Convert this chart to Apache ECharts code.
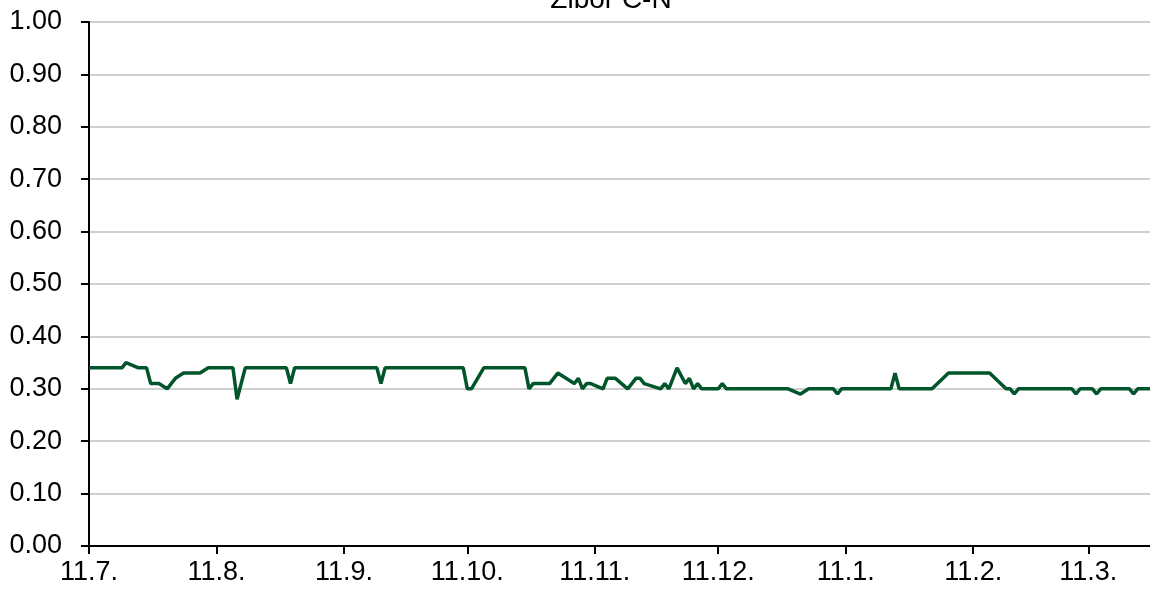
<!DOCTYPE html>
<html>
<head>
<meta charset="utf-8">
<script src="https://cdn.jsdelivr.net/npm/echarts@6/dist/echarts.min.js"></script>
<style>
html,body{margin:0;padding:0;background:#fff;}
#chart{width:1150px;height:595px;}
</style>
</head>
<body>
<div id="chart"></div>
<script>
const titleText = 'Zibor C-N';
const dates = [
  '2010-07-01','2010-07-09','2010-07-10','2010-07-13','2010-07-15','2010-07-16','2010-07-18','2010-07-20',
  '2010-07-21','2010-07-22','2010-07-24','2010-07-28','2010-07-30','2010-08-05','2010-08-06','2010-08-08',
  '2010-08-18','2010-08-19','2010-08-20','2010-09-09','2010-09-10','2010-09-11','2010-09-30','2010-10-01',
  '2010-10-02','2010-10-05','2010-10-15','2010-10-16','2010-10-17','2010-10-21','2010-10-23','2010-10-27',
  '2010-10-28','2010-10-29','2010-10-30','2010-10-31','2010-11-03','2010-11-04','2010-11-06','2010-11-09',
  '2010-11-11','2010-11-12','2010-11-13','2010-11-17','2010-11-18','2010-11-19','2010-11-21','2010-11-23',
  '2010-11-24','2010-11-25','2010-11-26','2010-11-27','2010-12-01','2010-12-02','2010-12-03','2010-12-18',
  '2010-12-21','2010-12-23','2010-12-29','2010-12-30','2010-12-31','2011-01-12','2011-01-13','2011-01-14',
  '2011-01-22','2011-01-26','2011-02-05','2011-02-09','2011-02-10','2011-02-11','2011-02-12','2011-02-25',
  '2011-02-26','2011-02-27','2011-03-02','2011-03-03','2011-03-04','2011-03-11','2011-03-12','2011-03-13',
  '2011-03-16'
];
const values = [
  0.34,0.34,0.35,0.34,0.34,0.31,0.31,0.30,
  0.31,0.32,0.33,0.33,0.34,0.34,0.28,0.34,
  0.34,0.31,0.34,0.34,0.31,0.34,0.34,0.30,
  0.30,0.34,0.34,0.30,0.31,0.31,0.33,0.31,
  0.32,0.30,0.31,0.31,0.30,0.32,0.32,0.30,
  0.32,0.32,0.31,0.30,0.31,0.30,0.34,0.31,
  0.32,0.30,0.31,0.30,0.30,0.31,0.30,0.30,
  0.29,0.30,0.30,0.29,0.30,0.30,0.33,0.30,
  0.30,0.33,0.33,0.30,0.30,0.29,0.30,0.30,
  0.29,0.30,0.30,0.29,0.30,0.30,0.29,0.30,
  0.30
];
const tickDates = ['2010-07-01','2010-08-01','2010-09-01','2010-10-01','2010-11-01','2010-12-01','2011-01-01','2011-02-01','2011-03-01'];
const tickLabels = ['11.7.','11.8.','11.9.','11.10.','11.11.','11.12.','11.1.','11.2.','11.3.'];
const xMin = '2010-07-01';
const xMax = '2011-03-16';

const DAY = 86400000;
const toDay = s => { const p = s.split('-').map(Number); return Math.round(Date.UTC(p[0], p[1] - 1, p[2]) / DAY); };
const tickDays = tickDates.map(toDay);
const seriesData = dates.map((d, i) => [toDay(d), values[i]]);

const FONT = 'Liberation Sans, Arial, sans-serif';
const chart = echarts.init(document.getElementById('chart'), null, {renderer: 'canvas'});
chart.setOption({
  animation: false,
  backgroundColor: '#ffffff',
  title: {
    text: titleText,
    left: 611,
    top: -14,
    padding: 0,
    textAlign: 'center',
    textStyle: {fontFamily: FONT, fontSize: 28, fontWeight: 'normal', color: '#000'}
  },
  grid: {left: 89, right: 0, top: 22, bottom: 49, containLabel: false},
  xAxis: {
    type: 'value',
    min: toDay(xMin),
    max: toDay(xMax),
    axisLine: {show: true, onZero: false, lineStyle: {color: '#000', width: 2}},
    axisTick: {show: true, length: 8, lineStyle: {color: '#000', width: 2}, customValues: tickDays},
    axisLabel: {
      customValues: tickDays,
      margin: 13,
      fontFamily: FONT,
      fontSize: 27,
      color: '#000',
      formatter: function (v) {
        const i = tickDays.indexOf(Math.round(v));
        return i >= 0 ? tickLabels[i] : '';
      }
    },
    splitLine: {show: false}
  },
  yAxis: {
    type: 'value',
    min: 0,
    max: 1,
    interval: 0.1,
    axisLine: {show: true, onZero: false, lineStyle: {color: '#000', width: 2}},
    axisTick: {show: true, length: 8, lineStyle: {color: '#000', width: 2}},
    axisLabel: {
      margin: 27,
      fontFamily: FONT,
      fontSize: 27,
      color: '#000',
      formatter: v => v.toFixed(2)
    },
    splitLine: {show: true, lineStyle: {color: '#c0c0c0', width: 1.5}}
  },
  series: [{
    type: 'line',
    data: seriesData,
    showSymbol: false,
    symbol: 'none',
    lineStyle: {color: '#00552a', width: 3.5},
    itemStyle: {color: '#00552a'}
  }]
});
</script>
</body>
</html>
